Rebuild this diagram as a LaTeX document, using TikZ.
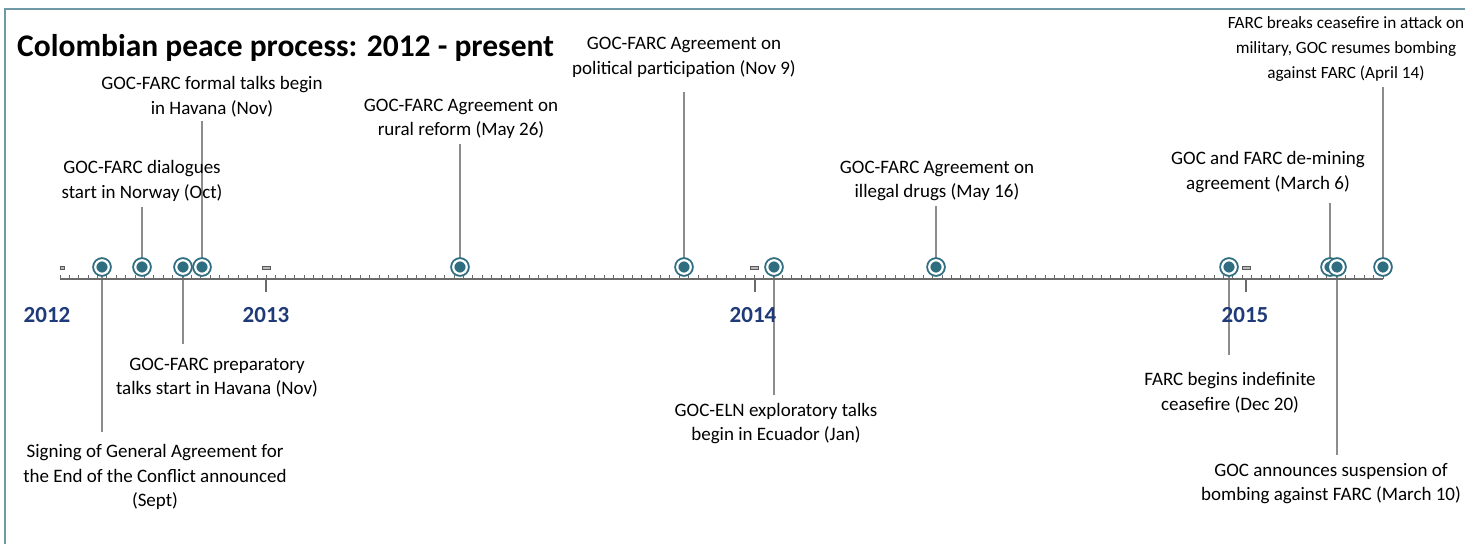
\documentclass[tikz,border=0pt]{standalone}
\usepackage{fontspec}
\setmainfont{Carlito}
\usetikzlibrary{backgrounds,calc}
\definecolor{teal1}{HTML}{2E6E80}
\definecolor{framec}{HTML}{6F9AA5}
\definecolor{yearc}{HTML}{1F3A78}
\definecolor{conn}{HTML}{8C8C8C}
\definecolor{axisc}{HTML}{6A6A6A}
\begin{document}
\begin{tikzpicture}[x=1pt,y=-1pt,
  lbl/.style={font=\fontsize{19}{24.5}\selectfont, align=center, inner sep=0pt, text=black},
  titlestyle/.style={font=\fontsize{31.5}{34}\selectfont\bfseries, inner sep=0pt, anchor=west},
  marker/.style={circle, draw=teal1, double=white, double distance=2.2pt, line width=1.9pt, fill=teal1, minimum size=13.5pt, inner sep=0pt},
  yr/.style={font=\fontsize{23}{26}\selectfont\bfseries, text=yearc, inner sep=0pt},
  conline/.style={draw=conn, line width=1.3pt},
  axline/.style={draw=axisc, line width=1.2pt},
  tick/.style={draw=axisc, line width=0.9pt},
  datemark/.style={draw=gray!70!black, fill=gray!55, line width=0.6pt}]
\useasboundingbox (0,0) rectangle (1465,544);
% frame
\draw[framec, line width=1.5pt] (5,544) -- (5,9) -- (1465,9);
% title
\node[titlestyle] (title) at (17,48) {Colombian peace process: 2012 - present};
% axis
\coordinate (ax0) at (60,279);
\coordinate (ax1) at (1383,279);
\draw[axline] (ax0) -- (ax1);
\foreach \i in {0,...,141} \draw[tick] ({60+\i*9.383},279) -- ++(0,-4);
\foreach \x in {266,755,1246} \draw[tick, line width=1.1pt] (\x,279) -- (\x,292);
\foreach \x/\w in {62/4,266/8,754/8,1246/8} \draw[datemark] (\x-\w/2,266.5) rectangle (\x+\w/2,269.5);
% years
\node[yr] (y12) at (47,315) {2012};
\node[yr] (y13) at (266,315) {2013};
\node[yr] (y14) at (753,315) {2014};
\node[yr] (y15) at (1245,315) {2015};
% markers
\node[marker] (mSep) at (102,267) {};
\node[marker] (mOct) at (142,267) {};
\node[marker] (mPrep) at (183,267) {};
\node[marker] (mFormal) at (202,267) {};
\node[marker] (mRural) at (460,267) {};
\node[marker] (mPolit) at (684,267) {};
\node[marker] (mEln) at (774,267) {};
\node[marker] (mDrugs) at (936,267) {};
\node[marker] (mDec) at (1229,267) {};
\node[marker] (mMar6) at (1330,267) {};
\node[marker] (mMar10) at (1337,267) {};
\node[marker] (mApr) at (1383,267) {};
% labels above
\node[lbl] (lFormal) at (212,96.5) {GOC-FARC formal talks begin\\in Havana (Nov)};
\node[lbl] (lOct) at (142,181) {GOC-FARC dialogues\\start in Norway (Oct)};
\node[lbl] (lRural) at (461,119) {GOC-FARC Agreement on\\rural reform (May 26)};
\node[lbl] (lPolit) at (684,57.5) {GOC-FARC Agreement on\\political participation (Nov 9)};
\node[lbl] (lDrugs) at (937,181) {GOC-FARC Agreement on\\illegal drugs (May 16)};
\node[lbl] (lMar6) at (1268,172) {GOC and FARC de-mining\\agreement (March 6)};
\node[lbl, font=\fontsize{17.2}{25}\selectfont] (lApr) at (1346,49) {FARC breaks ceasefire in attack on\\military, GOC resumes bombing\\against FARC (April 14)};
% labels below
\node[lbl] (lPrep) at (217,377.5) {GOC-FARC preparatory\\talks start in Havana (Nov)};
\node[lbl] (lSep) at (155,477) {Signing of General Agreement for\\the End of the Conflict announced\\(Sept)};
\node[lbl] (lEln) at (776,423.5) {GOC-ELN exploratory talks\\begin in Ecuador (Jan)};
\node[lbl] (lDec) at (1230,392.5) {FARC begins indefinite\\ceasefire (Dec 20)};
\node[lbl] (lMar10) at (1331,483.5) {GOC announces suspension of\\bombing against FARC (March 10)};
% connectors
\begin{scope}[on background layer]
\foreach \m/\l/\g in {mFormal/lFormal/4, mOct/lOct/5, mRural/lRural/5, mPolit/lPolit/14, mDrugs/lDrugs/5, mMar6/lMar6/10, mApr/lApr/5}
  \draw[conline] (\m.center) -- ($(\m.center |- \l.south)+(0,\g)$);
\foreach \m/\l/\g in {mSep/lSep/12, mPrep/lPrep/14, mEln/lEln/8, mDec/lDec/17, mMar10/lMar10/8}
  \draw[conline] (\m.center) -- ($(\m.center |- \l.north)+(0,-\g)$);
\end{scope}
\end{tikzpicture}
\end{document}
